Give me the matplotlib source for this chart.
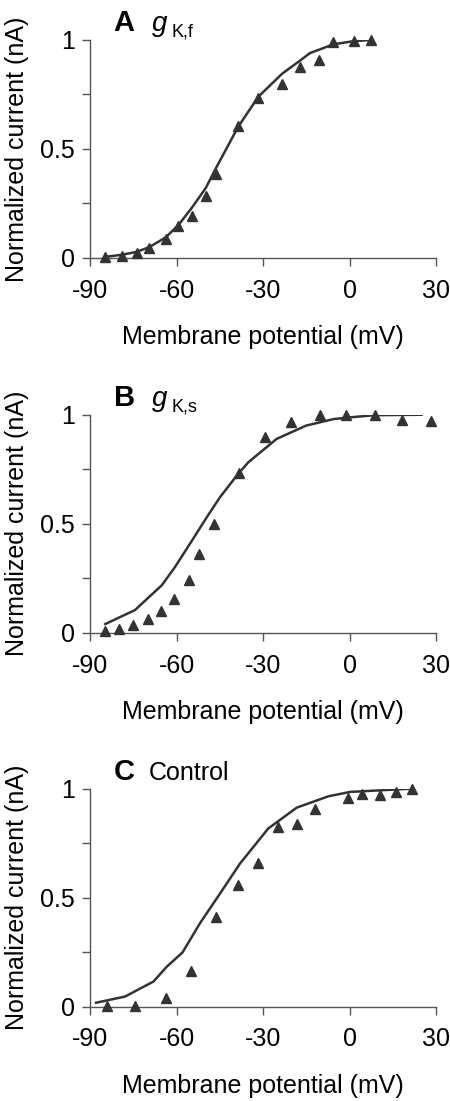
import numpy as np
import matplotlib
matplotlib.use("Agg")
import matplotlib.pyplot as plt

plt.rcParams['font.family'] = ['Liberation Sans', 'DejaVu Sans']
plt.rcParams['axes.unicode_minus'] = False

# panel A: g_K,f
a_data_v = [-84.7, -78.8, -73.8, -69.4, -63.8, -59.4, -54.7, -49.9, -46.4,
            -38.7, -31.6, -23.4, -17.2, -10.5, -5.6, 1.6, 7.5]
a_data_i = [0.005, 0.01, 0.023, 0.045, 0.088, 0.145, 0.194, 0.286, 0.386,
            0.606, 0.733, 0.798, 0.878, 0.908, 0.992, 0.995, 1.0]
a_fit_v = [-84.7, -78.8, -73.8, -69.4, -63.8, -59.4, -54.7, -49.9, -46.4,
           -38.7, -31.6, -23.4, -17.2, -13.7, -5.6, 1.6, 7.5]
a_fit_i = [0.005, 0.015, 0.028, 0.05, 0.094, 0.15, 0.23, 0.32, 0.41,
           0.60, 0.74, 0.845, 0.905, 0.94, 0.98, 0.995, 1.0]

# panel B: g_K,s
b_data_v = [-84.7, -79.9, -75.2, -70.0, -65.3, -61.0, -55.8, -52.2, -46.9,
            -38.4, -29.2, -20.4, -10.1, -1.3, 8.7, 18.2, 28.1]
b_data_i = [0.006, 0.015, 0.037, 0.064, 0.099, 0.155, 0.241, 0.36, 0.498,
            0.732, 0.896, 0.965, 0.998, 0.998, 0.998, 0.976, 0.972]
b_fit_v = [-84.7, -74.4, -65.1, -60.5, -55.3, -49.5, -44.9, -39.1, -35.1,
           -25.3, -15.1, -5.6, 0.2, 8.7, 25.0]
b_fit_i = [0.04, 0.104, 0.218, 0.302, 0.409, 0.53, 0.622, 0.721, 0.782,
           0.889, 0.95, 0.98, 0.988, 0.998, 1.0]

# panel C: control
c_data_v = [-84.2, -74.3, -63.6, -54.9, -46.3, -38.6, -31.6, -24.7, -18.1,
            -12.0, -0.4, 4.2, 10.6, 16.1, 21.7]
c_data_i = [0.005, 0.004, 0.038, 0.165, 0.412, 0.557, 0.661, 0.824, 0.84,
            0.908, 0.959, 0.974, 0.969, 0.983, 1.0]
c_fit_v = [-87.9, -77.9, -68.0, -63.4, -57.9, -51.9, -44.9, -38.0, -28.2,
           -18.3, -7.3, 0.2, 21.7]
c_fit_i = [0.018, 0.046, 0.115, 0.183, 0.249, 0.382, 0.519, 0.656, 0.817,
           0.913, 0.965, 0.985, 1.0]

panels = [
    ("A", "K,f", a_data_v, a_data_i, a_fit_v, a_fit_i, [0.2, 0.7657, 0.769, 0.198]),
    ("B", "K,s", b_data_v, b_data_i, b_fit_v, b_fit_i, [0.2, 0.4253, 0.769, 0.198]),
    ("C", None, c_data_v, c_data_i, c_fit_v, c_fit_i, [0.2, 0.0857, 0.769, 0.198]),
]

fig = plt.figure(figsize=(4.5, 11.01), dpi=100)
dark = "#333333"
fs = 18

for letter, sub, dv, di, fv, fi, rect in panels:
    ax = fig.add_axes(rect)
    ax.plot(fv, fi, color=dark, lw=1.8, zorder=2)
    ax.plot(dv, di, "^", color=dark, ms=7.5, zorder=3, clip_on=False)
    ax.set_xlim(-90, 30)
    ax.set_ylim(0, 1)
    ax.set_xticks([-90, -60, -30, 0, 30])
    ax.set_yticks([0, 0.25, 0.5, 0.75, 1])
    ax.set_yticklabels(["0", "", "0.5", "", "1"])
    for s in ["top", "right"]:
        ax.spines[s].set_visible(False)
    for s in ["left", "bottom"]:
        ax.spines[s].set_color("#555555")
        ax.spines[s].set_linewidth(1.0)
    ax.tick_params(direction="out", length=6, width=1.0, color="#555555",
                   labelsize=fs)
    ax.tick_params(axis="x", pad=9)
    ax.tick_params(axis="y", pad=5)
    ax.set_xlabel("Membrane potential (mV)", fontsize=fs, labelpad=16)
    ax.set_ylabel("Normalized current (nA)", fontsize=fs)
    ax.yaxis.set_label_coords(-0.175, 0.5)
    ax.text(0.068, 1.04, letter, transform=ax.transAxes, fontsize=21,
            fontweight="bold", va="baseline")
    if sub is not None:
        ax.text(0.178, 1.04, "g", transform=ax.transAxes, fontsize=20,
                style="italic", va="baseline")
        ax.text(0.235, 1.015, sub, transform=ax.transAxes, fontsize=13,
                va="baseline")
    else:
        ax.text(0.17, 1.04, "Control", transform=ax.transAxes, fontsize=fs,
                va="baseline")

fig.savefig("out.png", dpi=100)
